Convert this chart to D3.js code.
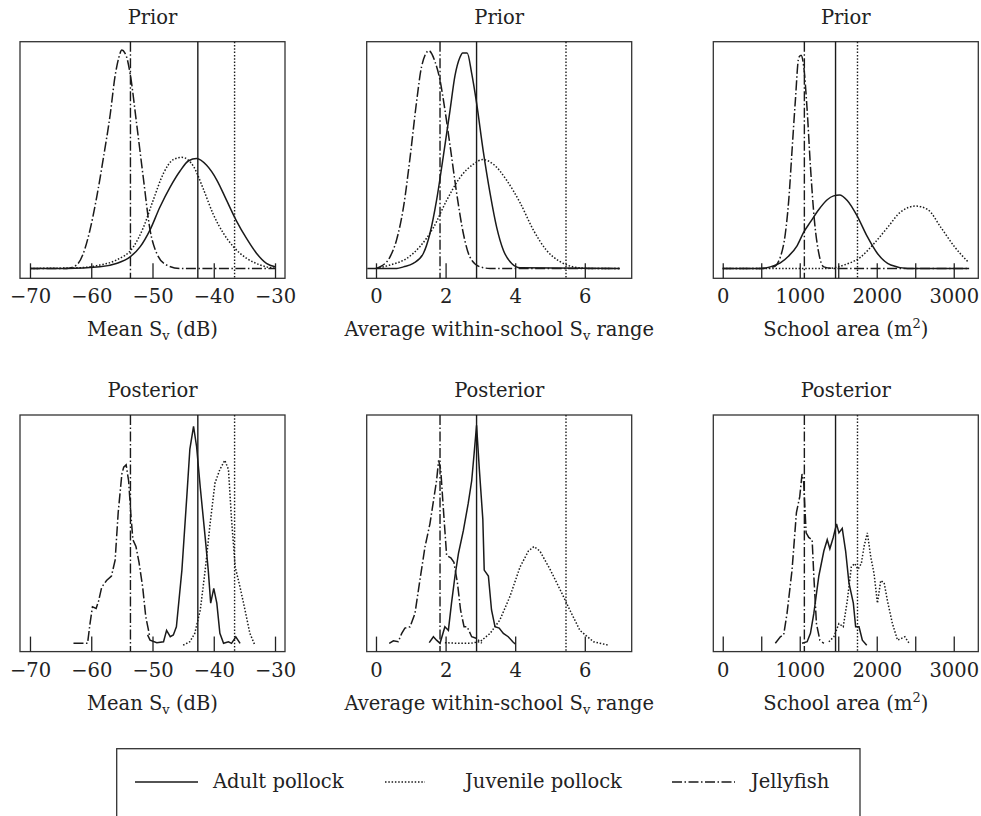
<!DOCTYPE html>
<html>
<head>
<meta charset="utf-8">
<script src="https://cdn.jsdelivr.net/npm/d3@7"></script>
<style>
  body { margin: 0; background: #fff; }
  svg { font-family: "DejaVu Serif", serif; }
</style>
</head>
<body>
<svg id="chart" width="981" height="816"></svg>
<script>
// --- values: [x, relative density] ---
const priorSvAdult = [[-70,0],[-64,0],[-58.6,0.007],[-55.9,0.022],[-53.7,0.05],[-52.0,0.096],[-50.4,0.17],[-48.8,0.27],[-47.1,0.36],[-45.5,0.43],[-44.1,0.475],[-42.8,0.485],[-41.2,0.456],[-39.5,0.39],[-37.9,0.30],[-36.3,0.21],[-34.6,0.13],[-33.0,0.066],[-31.4,0.022],[-30,0.007]];
const priorSvJuv = [[-70,0],[-62,0.003],[-58.6,0.015],[-55.9,0.037],[-53.1,0.096],[-51.5,0.18],[-49.9,0.30],[-48.2,0.42],[-46.6,0.48],[-45.2,0.49],[-43.3,0.45],[-41.7,0.35],[-40.1,0.24],[-38.4,0.154],[-36.8,0.096],[-34.6,0.044],[-32.4,0.015],[-30,0]];
const priorSvJelly = [[-70,0],[-64,0],[-62.4,0.015],[-61.3,0.066],[-60.2,0.17],[-59.1,0.316],[-58.0,0.49],[-56.9,0.68],[-56.1,0.85],[-55.5,0.93],[-55.0,0.963],[-54.5,0.95],[-54.2,0.93],[-53.6,0.85],[-52.6,0.64],[-51.5,0.40],[-50.4,0.17],[-49.3,0.066],[-47.7,0.015],[-45.5,0],[-30,0]];

const priorRangeAdult = [[-0.25,0],[0.6,0],[0.79,0.007],[1.07,0.022],[1.36,0.066],[1.55,0.154],[1.74,0.30],[1.93,0.49],[2.13,0.70],[2.27,0.85],[2.41,0.93],[2.49,0.95],[2.62,0.95],[2.75,0.86],[2.89,0.73],[3.08,0.52],[3.28,0.33],[3.47,0.18],[3.66,0.08],[3.90,0.022],[4.14,0.003],[7,0]];
const priorRangeJuv = [[0,0],[0.40,0.015],[0.88,0.044],[1.26,0.096],[1.65,0.18],[2.03,0.30],[2.41,0.40],[2.80,0.46],[3.07,0.48],[3.37,0.46],[3.75,0.39],[4.14,0.29],[4.52,0.17],[4.90,0.08],[5.29,0.03],[5.67,0.007],[6.15,0],[7,0]];
const priorRangeJelly = [[0,0],[0.11,0.007],[0.40,0.05],[0.59,0.125],[0.79,0.27],[0.98,0.49],[1.17,0.74],[1.31,0.89],[1.52,0.96],[1.70,0.91],[1.84,0.83],[1.98,0.70],[2.13,0.54],[2.32,0.33],[2.51,0.154],[2.70,0.05],[2.99,0.007],[3.28,0],[7,0]];

const priorAreaAdult = [[0,0],[487,0],[617,0.007],[748,0.025],[857,0.055],[965,0.1],[1052,0.16],[1139,0.205],[1248,0.26],[1357,0.303],[1440,0.32],[1517,0.324],[1617,0.30],[1748,0.23],[1878,0.14],[2009,0.066],[2183,0.015],[2400,0],[3200,0]];
const priorAreaJuv = [[0,0],[1357,0],[1574,0.015],[1791,0.05],[1965,0.11],[2139,0.18],[2313,0.25],[2509,0.275],[2661,0.26],[2835,0.18],[3009,0.096],[3183,0.03]];
const priorAreaJelly = [[0,0],[487,0],[661,0.007],[748,0.05],[813,0.154],[857,0.30],[900,0.52],[943,0.74],[987,0.93],[1017,0.94],[1052,0.89],[1096,0.70],[1139,0.45],[1191,0.21],[1248,0.066],[1313,0.007],[1443,0],[3200,0]];

const postSvAdult = [[-50.8,0.03],[-50.4,0.007],[-49.3,-0.004],[-48.2,0],[-47.7,0.05],[-47.1,0.022],[-46.6,0.03],[-46.1,0.066],[-45.2,0.316],[-44.4,0.64],[-43.9,0.85],[-43.3,0.95],[-42.8,0.86],[-42.2,0.68],[-41.4,0.46],[-40.9,0.316],[-40.5,0.17],[-40.0,0.235],[-39.5,0.17],[-39.0,0.037],[-38.4,-0.007],[-37.6,0],[-37.1,-0.007],[-36.4,0.022],[-35.7,-0.007]];
const postSvJuv = [[-45.0,-0.015],[-43.9,0],[-43.1,0.037],[-42.2,0.14],[-41.4,0.316],[-40.6,0.52],[-39.8,0.70],[-39.0,0.76],[-38.2,0.80],[-37.6,0.76],[-37.1,0.54],[-36.5,0.33],[-35.7,0.24],[-34.9,0.14],[-34.1,0.037],[-33.3,-0.015]];
const postSvJelly = [[-62.9,-0.007],[-60.6,-0.007],[-60.2,0.08],[-59.8,0.154],[-59.2,0.147],[-58.8,0.18],[-58.3,0.24],[-57.5,0.27],[-56.7,0.29],[-56.1,0.36],[-55.6,0.57],[-55.0,0.74],[-54.7,0.77],[-54.3,0.78],[-53.9,0.71],[-53.5,0.55],[-53.2,0.45],[-52.7,0.42],[-52.2,0.35],[-51.6,0.24],[-51.1,0.11],[-50.5,0.03]];

const postRangeAdult = [[1.53,-0.004],[1.65,0.022],[1.74,0.007],[1.84,-0.007],[1.98,0.066],[2.08,0.05],[2.17,0.17],[2.27,0.29],[2.37,0.39],[2.51,0.49],[2.65,0.61],[2.75,0.71],[2.82,0.83],[2.89,0.955],[2.97,0.76],[3.07,0.54],[3.11,0.316],[3.23,0.29],[3.32,0.14],[3.42,0.066],[3.54,0.06],[3.66,0.037],[3.80,0.022],[3.93,0],[4.0,-0.01]];
const postRangeJuv = [[1.98,-0.004],[2.32,-0.007],[2.70,-0.007],[2.99,0],[3.28,0.037],[3.56,0.096],[3.85,0.2],[4.14,0.33],[4.38,0.40],[4.54,0.42],[4.71,0.40],[5.0,0.32],[5.29,0.23],[5.57,0.14],[5.86,0.05],[6.25,0],[6.68,-0.015]];
const postRangeJelly = [[0.38,-0.007],[0.50,0.004],[0.64,0],[0.74,0.037],[0.83,0.06],[0.98,0.066],[1.12,0.125],[1.26,0.27],[1.41,0.42],[1.55,0.52],[1.67,0.64],[1.74,0.71],[1.80,0.80],[1.86,0.76],[1.93,0.60],[2.03,0.38],[2.15,0.37],[2.24,0.35],[2.34,0.26],[2.43,0.14],[2.53,0.066],[2.62,0.066],[2.75,0.022],[2.89,0.015],[3.04,-0.007]];

const postAreaAdult = [[1030,-0.007],[1096,0],[1139,0.037],[1183,0.125],[1248,0.29],[1313,0.40],[1357,0.45],[1391,0.41],[1435,0.46],[1478,0.52],[1509,0.48],[1552,0.50],[1596,0.40],[1639,0.26],[1696,0.17],[1726,0.066],[1770,0.066],[1813,0.007],[1870,-0.015]];
const postAreaJuv = [[1378,0],[1443,0.022],[1509,0.08],[1565,0.066],[1617,0.18],[1670,0.33],[1713,0.345],[1757,0.32],[1800,0.345],[1835,0.42],[1878,0.48],[1922,0.375],[1965,0.30],[2009,0.17],[2052,0.27],[2096,0.26],[2139,0.18],[2204,0.08],[2270,0.007],[2322,0.015],[2365,0.022],[2422,-0.007]];
const postAreaJelly = [[683,-0.007],[748,0.022],[791,0.03],[835,0.125],[900,0.316],[957,0.57],[1000,0.64],[1030,0.74],[1052,0.70],[1083,0.48],[1117,0.46],[1161,0.45],[1183,0.29],[1217,0.08],[1261,0.007],[1313,-0.007]];

// observed values (vertical lines): adult, juvenile, jellyfish
const svRefs = [-42.6, -36.6, -53.6];
const rangeRefs = [2.89, 5.46, 1.84];
const areaRefs = [1465, 1750, 1060];

const svTicks = [-70, -60, -50, -40, -30];
const rangeTicks = [0, 2, 4, 6];
const areaTicks = [0, 500, 1000, 1500, 2000, 2500, 3000];
const areaTickLabels = [0, 1000, 2000, 3000];

const seriesNames = ['Adult pollock', 'Juvenile pollock', 'Jellyfish'];
const rowTitles = ['Prior', 'Posterior'];

// line styles per series (adult, juvenile, jellyfish)
const dashes = [null, '1.5,1.8', '10,2.5,1.5,2.5'];
const FONT = '19.5px';

const svg = d3.select('#chart');
const colLeft = [20, 366.7, 713.3];
const rowTop = [41.7, 415];
const boxW = 265, boxH = 236.6;

const columns = [
  { domain: [-71.63, -28.37], ticks: svTicks, fmt: d => d3.format('d')(d), refs: svRefs,
    title: 'sv', curves: [[priorSvAdult, priorSvJuv, priorSvJelly], [postSvAdult, postSvJuv, postSvJelly]] },
  { domain: [-0.267, 7.348], ticks: rangeTicks, fmt: d => d3.format('d')(d), refs: rangeRefs,
    title: 'range', curves: [[priorRangeAdult, priorRangeJuv, priorRangeJelly], [postRangeAdult, postRangeJuv, postRangeJelly]] },
  { domain: [-122.6, 3319], ticks: areaTicks, fmt: d => areaTickLabels.includes(d) ? String(d) : '', refs: areaRefs,
    title: 'area', curves: [[priorAreaAdult, priorAreaJuv, priorAreaJelly], [postAreaAdult, postAreaJuv, postAreaJelly]] }
];

// Axis titles with sub/superscripts
function axisTitle(sel, kind) {
  if (kind === 'sv') {
    sel.append('tspan').text('Mean S');
    sel.append('tspan').attr('font-size', 13).attr('dy', 4).text('v');
    sel.append('tspan').attr('dy', -4).text(' (dB)');
  } else if (kind === 'range') {
    sel.append('tspan').text('Average within-school S');
    sel.append('tspan').attr('font-size', 13).attr('dy', 4).text('v');
    sel.append('tspan').attr('dy', -4).text(' range');
  } else {
    sel.append('tspan').text('School area (m');
    sel.append('tspan').attr('font-size', 13).attr('dy', -8).text('2');
    sel.append('tspan').attr('dy', 8).text(')');
  }
}

rowTitles.forEach((rowTitle, r) => {
  columns.forEach((col, c) => {
    const x0 = colLeft[c], y0 = rowTop[r];
    const g = svg.append('g').attr('transform', `translate(${x0},${y0})`);
    const x = d3.scaleLinear().domain(col.domain).range([0, boxW]);
    const y = d3.scaleLinear().domain([-0.0435, 1]).range([boxH, 0]);

    // frame
    g.append('rect')
      .attr('width', boxW).attr('height', boxH)
      .attr('fill', 'none').attr('stroke', '#333').attr('stroke-width', 1.3);

    // axis: ticks point up into the box
    const axis = g.append('g')
      .attr('transform', `translate(0,${boxH})`)
      .call(d3.axisBottom(x).tickValues(col.ticks).tickFormat(col.fmt).tickSize(-15));
    axis.select('.domain').remove();
    axis.selectAll('line').attr('stroke', '#222').attr('stroke-width', 1.3);
    axis.selectAll('text')
      .attr('y', 25).attr('dy', 0)
      .attr('fill', '#222')
      .style('font-size', FONT)
      .style('font-family', '"DejaVu Serif", serif');

    // vertical reference lines
    g.selectAll('line.ref')
      .data(col.refs)
      .enter()
      .append('line')
      .attr('class', 'ref')
      .attr('x1', d => x(d)).attr('x2', d => x(d))
      .attr('y1', 0).attr('y2', boxH)
      .attr('stroke', '#1a1a1a').attr('stroke-width', 1.4)
      .attr('stroke-dasharray', (d, i) => dashes[i]);

    // density curves
    const line = d3.line()
      .x(d => x(d[0]))
      .y(d => y(d[1]))
      .curve(r === 0 ? d3.curveMonotoneX : d3.curveLinear);
    g.selectAll('path.curve')
      .data(col.curves[r])
      .enter()
      .append('path')
      .attr('class', 'curve')
      .attr('fill', 'none')
      .attr('stroke', '#1a1a1a')
      .attr('stroke-width', 1.5)
      .attr('stroke-dasharray', (d, i) => dashes[i])
      .attr('d', line);

    // panel title
    g.append('text')
      .attr('x', boxW / 2).attr('y', -18)
      .attr('text-anchor', 'middle')
      .attr('fill', '#222')
      .style('font-size', FONT)
      .text(rowTitle);

    // axis title
    const t = g.append('text')
      .attr('x', boxW / 2).attr('y', boxH + 58)
      .attr('text-anchor', 'middle')
      .attr('fill', '#222')
      .style('font-size', FONT);
    axisTitle(t, col.title);
  });
});

// legend (box runs off the bottom edge, as in the figure)
const legend = svg.append('g');
legend.append('rect')
  .attr('x', 116.7).attr('y', 748.7)
  .attr('width', 743.3).attr('height', 100)
  .attr('fill', 'none').attr('stroke', '#333').attr('stroke-width', 1.3);

const legendItems = [
  { name: seriesNames[0], x1: 135, x2: 198, tx: 213 },
  { name: seriesNames[1], x1: 385, x2: 425, tx: 465 },
  { name: seriesNames[2], x1: 672, x2: 735, tx: 751 }
];
legendItems.forEach((it, i) => {
  legend.append('line')
    .attr('x1', it.x1).attr('x2', it.x2)
    .attr('y1', 782).attr('y2', 782)
    .attr('stroke', '#1a1a1a').attr('stroke-width', 1.5)
    .attr('stroke-dasharray', dashes[i]);
  legend.append('text')
    .attr('x', it.tx).attr('y', 788)
    .attr('fill', '#222')
    .style('font-size', FONT)
    .text(it.name);
});
</script>
</body>
</html>
